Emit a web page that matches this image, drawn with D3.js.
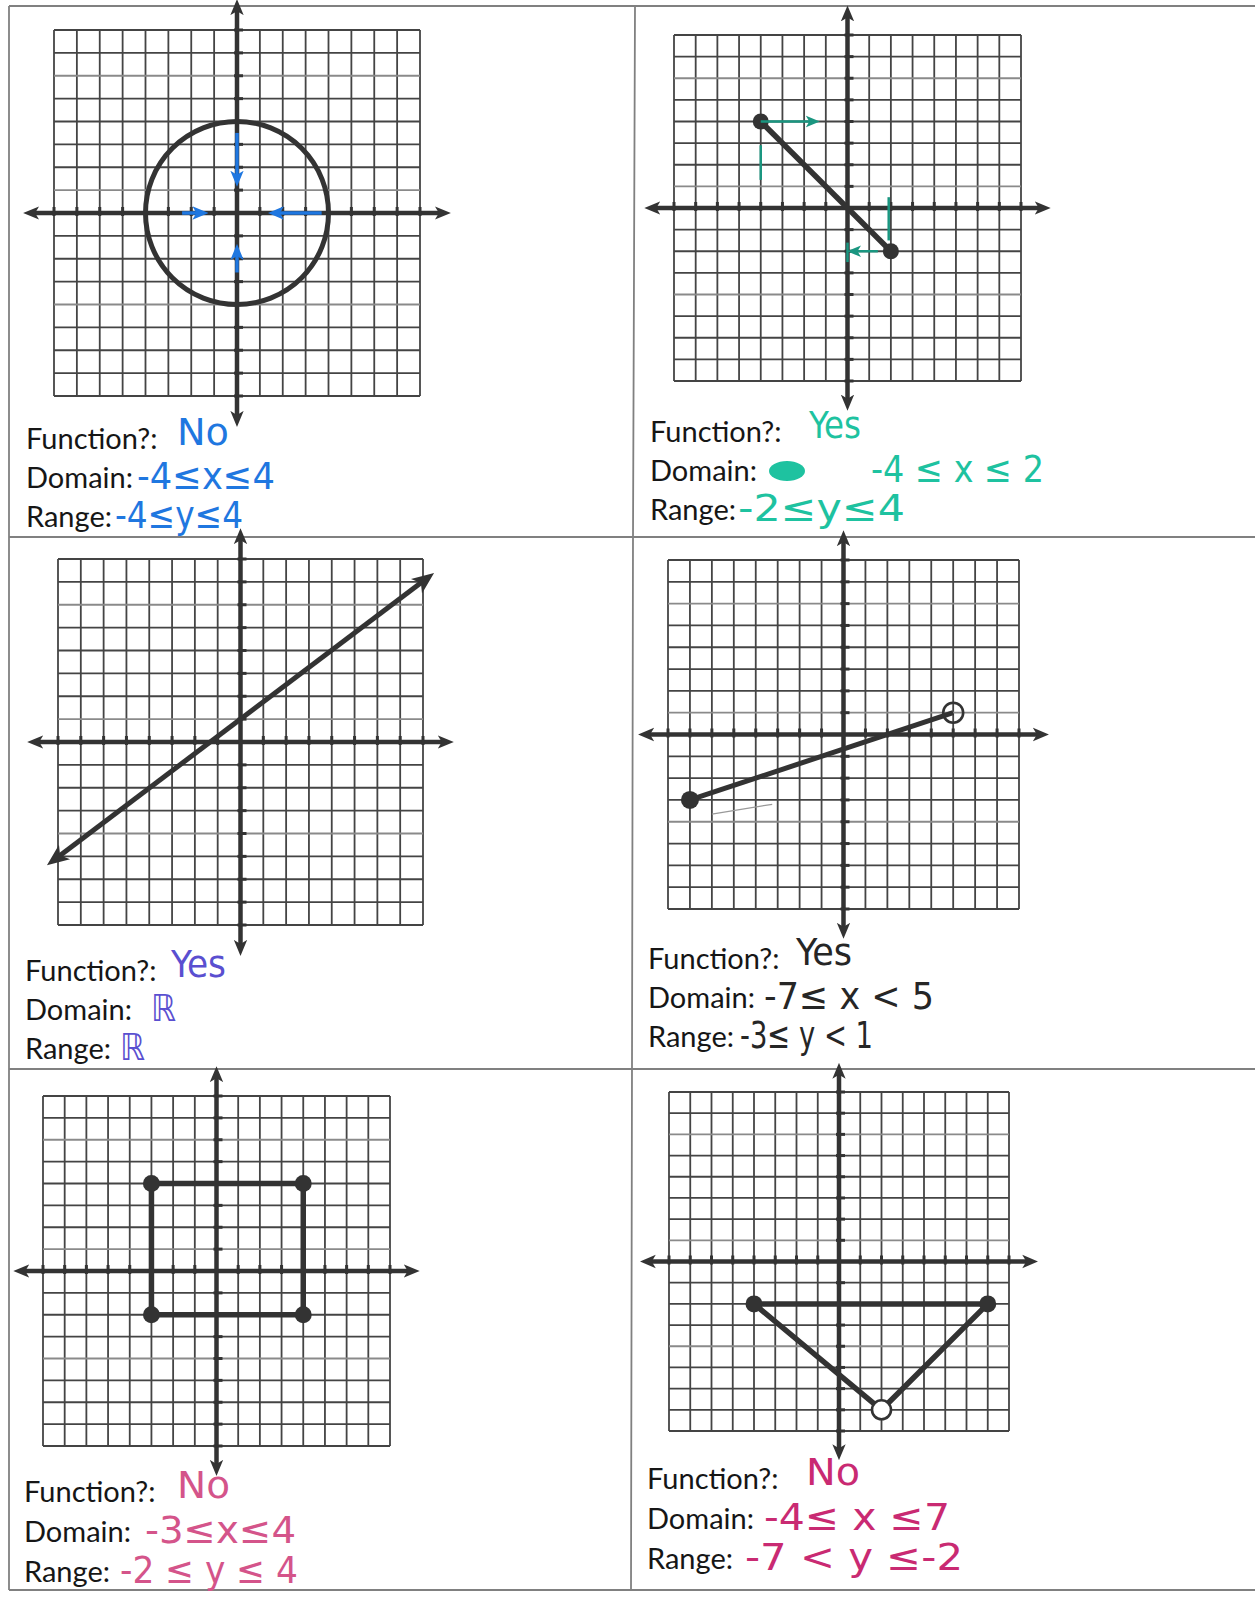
<!DOCTYPE html>
<html>
<head>
<meta charset="utf-8">
<script src="https://cdn.jsdelivr.net/npm/d3@7"></script>
<style>
  html, body { margin: 0; background: #fff; }
  svg { display: block; }
  .lbl { font-family: Lato, "Open Sans", sans-serif; font-size: 29px; fill: #161616; }
  .ans { font-family: "Liberation Sans Narrow", "DejaVu Sans Condensed", "Noto Sans", sans-serif; font-size: 37px; }
</style>
</head>
<body>
<svg id="chart" width="1255" height="1606"></svg>
<script>
// ---- data ----------------------------------------------------------
const UNITS = d3.range(-8, 9);
const AXIS_EXT = 9;
const labels = ['Function?:', 'Domain:', 'Range:'];

// 1: circle
const circleCenter = [0, 0];
const circleRadius = 4;
const circleArrows = [[[0, 3.5], [0, 1.5]], [[-2.4, 0], [-1.6, 0]], [[3.7, 0], [1.7, 0]], [[0, -2.6], [0, -1.7]]];
const answers1 = ['No', '-4≤x≤4', '-4≤y≤4'];

// 2: segment
const seg2 = [[-4, 4], [2, -2]];
const closed2 = [[-4, 4], [2, -2]];
const guideArrows2 = [[[-4, 4], [-1.6, 4]], [[1.4, -2], [0.3, -2]]];
const guideLines2 = [[[-4, 2.9], [-4, 1.3]], [[1.9, 0.5], [1.9, -1.5]], [[0, -1.6], [0, -2.5]]];
const answers2 = ['Yes', '-4 ≤ x ≤ 2', '-2≤y≤4'];

// 3: line with arrows both ends
const line3 = [[-8.1, -5.1], [8.1, 7.1]];
const answers3 = ['Yes', 'ℝ', 'ℝ'];

// 4: closed to open segment
const seg4 = [[-7, -3], [5, 1]];
const closed4 = [[-7, -3]];
const open4 = [[5, 1]];
const scribble4 = [[-6, -3.65], [-3.25, -3.2]];
const answers4 = ['Yes', '-7≤  x < 5', '-3≤ y < 1'];

// 5: rectangle
const rect5 = [[-3, 4], [4, 4], [4, -2], [-3, -2], [-3, 4]];
const closed5 = [[-3, 4], [4, 4], [4, -2], [-3, -2]];
const answers5 = ['No', '-3≤x≤4', '-2 ≤ y ≤ 4'];

// 6: triangle
const tri6 = [[-4, -2], [7, -2], [2, -7], [-4, -2]];
const closed6 = [[-4, -2], [7, -2]];
const open6 = [[2, -7]];
const answers6 = ['No', '-4≤ x ≤7', '-7 < y ≤-2'];

// ---- layout --------------------------------------------------------
const panels = [
  { box: [54, 30, 420, 396],   lx: 26, ly: 449,  gap: 39, ax: [177, 137, 115], aw: [52, 138, 128], color: '#1f77e0', answers: answers1 },
  { box: [674, 35, 1021, 381], lx: 650, ly: 442, gap: 39, ax: [809, 871, 738], aw: [52, 173, 167], color: '#1ec2a0', answers: answers2 },
  { box: [58, 559, 423, 925],  lx: 25, ly: 981,  gap: 39, ax: [171, 151, 120], aw: [55, 25, 25],   color: '#5a4fd0', answers: answers3 },
  { box: [668, 560, 1019, 909],lx: 648, ly: 969, gap: 39, ax: [796, 764, 740], aw: [56, 170, 133], color: '#262626', answers: answers4 },
  { box: [43, 1096, 390, 1446],lx: 24, ly: 1502, gap: 40, ax: [177, 145, 120], aw: [53, 151, 178], color: '#d4548a', answers: answers5 },
  { box: [669, 1092, 1009, 1431], lx: 647, ly: 1489, gap: 40, ax: [806, 764, 745], aw: [54, 186, 218], color: '#c92a72', answers: answers6 }
];
const ANS_SHIFT = [-4, 1, 1];

const INK = '#333';
const svg = d3.select('#chart');

const defs = svg.append('defs');
function marker(id, color, size) {
  defs.append('marker')
    .attr('id', id)
    .attr('viewBox', '0 -6 12 12')
    .attr('refX', 6).attr('refY', 0)
    .attr('markerUnits', 'userSpaceOnUse')
    .attr('markerWidth', size).attr('markerHeight', size)
    .attr('orient', 'auto-start-reverse')
    .append('path')
    .attr('d', 'M0,-5L12,0L0,5L3,0Z')
    .attr('fill', color);
}
marker('axisArrow', INK, 16);
marker('lineArrow', INK, 22);
marker('blueArrow', '#1f77e0', 16);
marker('tealArrow', '#1a9680', 14);

// table borders
const border = svg.append('g').attr('stroke', '#808080').attr('stroke-width', 1.8).attr('fill', 'none');
border.append('path').attr('d', 'M9,6 V1590');
border.append('path').attr('d', 'M9,6 H1255');
border.append('path').attr('d', 'M635,6 L633,537 L631,1590');
[537, 1069, 1590].forEach((yy) => border.append('path').attr('d', `M9,${yy} H1255`));

function drawPanel(p) {
  const g = svg.append('g');
  const x = d3.scaleLinear().domain([-8, 8]).range([p.box[0], p.box[2]]);
  const y = d3.scaleLinear().domain([-8, 8]).range([p.box[3], p.box[1]]);

  // grid
  g.selectAll('line.gv').data(UNITS).join('line')
    .attr('class', 'gv')
    .attr('x1', (d) => x(d)).attr('x2', (d) => x(d))
    .attr('y1', y(-8)).attr('y2', y(8))
    .attr('stroke', '#444').attr('stroke-width', 1.8);
  g.selectAll('line.gh').data(UNITS).join('line')
    .attr('class', 'gh')
    .attr('y1', (d) => y(d)).attr('y2', (d) => y(d))
    .attr('x1', x(-8)).attr('x2', x(8))
    .attr('stroke', (d) => (d === 6 || d === 1 || d === -4 ? '#8a8a8a' : '#444'))
    .attr('stroke-width', 1.8);

  // axes
  g.append('line')
    .attr('x1', x(-AXIS_EXT)).attr('x2', x(AXIS_EXT)).attr('y1', y(0)).attr('y2', y(0))
    .attr('stroke', INK).attr('stroke-width', 4.5)
    .attr('marker-start', 'url(#axisArrow)').attr('marker-end', 'url(#axisArrow)');
  g.append('line')
    .attr('y1', y(-AXIS_EXT)).attr('y2', y(AXIS_EXT)).attr('x1', x(0)).attr('x2', x(0))
    .attr('stroke', INK).attr('stroke-width', 4.5)
    .attr('marker-start', 'url(#axisArrow)').attr('marker-end', 'url(#axisArrow)');

  // axis ticks
  g.selectAll('line.tx').data(UNITS.filter((d) => d !== 0)).join('line')
    .attr('x1', (d) => x(d)).attr('x2', (d) => x(d))
    .attr('y1', y(0) - 6).attr('y2', y(0) + 3)
    .attr('stroke', INK).attr('stroke-width', 3);
  g.selectAll('line.ty').data(UNITS.filter((d) => d !== 0)).join('line')
    .attr('y1', (d) => y(d)).attr('y2', (d) => y(d))
    .attr('x1', x(0) - 3).attr('x2', x(0) + 6)
    .attr('stroke', INK).attr('stroke-width', 3);

  // labels and answers
  labels.forEach((t, i) => {
    svg.append('text').attr('class', 'lbl')
      .attr('x', p.lx).attr('y', p.ly + i * p.gap).text(t);
    svg.append('text').attr('class', 'ans')
      .attr('x', p.ax[i]).attr('y', p.ly + i * p.gap + ANS_SHIFT[i])
      .attr('fill', p.color)
      .attr('textLength', p.aw[i]).attr('lengthAdjust', 'spacingAndGlyphs')
      .text(p.answers[i]);
  });
  return { g, x, y };
}

const lineGen = (x, y) => d3.line().x((d) => x(d[0])).y((d) => y(d[1]));

function dots(g, x, y, pts, r) {
  g.selectAll(null).data(pts).join('circle')
    .attr('cx', (d) => x(d[0])).attr('cy', (d) => y(d[1])).attr('r', r).attr('fill', INK);
}

// panel 1
{
  const { g, x, y } = drawPanel(panels[0]);
  g.append('circle')
    .attr('cx', x(circleCenter[0])).attr('cy', y(circleCenter[1]))
    .attr('r', x(circleRadius) - x(0))
    .attr('fill', 'none').attr('stroke', INK).attr('stroke-width', 5);
  g.selectAll(null).data(circleArrows).join('path')
    .attr('d', (d) => lineGen(x, y)(d))
    .attr('stroke', '#1f77e0').attr('stroke-width', 3.5).attr('fill', 'none')
    .attr('marker-end', 'url(#blueArrow)');
}

// panel 2
{
  const { g, x, y } = drawPanel(panels[1]);
  g.append('path').attr('d', lineGen(x, y)(seg2))
    .attr('stroke', INK).attr('stroke-width', 5.5).attr('fill', 'none');
  dots(g, x, y, closed2, 8);
  g.selectAll(null).data(guideArrows2).join('path')
    .attr('d', (d) => lineGen(x, y)(d))
    .attr('stroke', '#1a9680').attr('stroke-width', 2.5).attr('fill', 'none')
    .attr('marker-end', 'url(#tealArrow)');
  g.selectAll(null).data(guideLines2).join('path')
    .attr('d', (d) => lineGen(x, y)(d))
    .attr('stroke', '#1a9680').attr('stroke-width', 2.5).attr('fill', 'none');
  // scribbled-out word after "Domain:"
  svg.append('ellipse').attr('cx', 787).attr('cy', 471).attr('rx', 18).attr('ry', 10).attr('fill', '#1ec2a0');
}

// panel 3
{
  const { g, x, y } = drawPanel(panels[2]);
  g.append('path').attr('d', lineGen(x, y)(line3))
    .attr('stroke', INK).attr('stroke-width', 5).attr('fill', 'none')
    .attr('marker-start', 'url(#lineArrow)').attr('marker-end', 'url(#lineArrow)');
}

// panel 4
{
  const { g, x, y } = drawPanel(panels[3]);
  g.append('path').attr('d', lineGen(x, y)(seg4))
    .attr('stroke', INK).attr('stroke-width', 5).attr('fill', 'none');
  dots(g, x, y, closed4, 9);
  g.selectAll(null).data(open4).join('circle')
    .attr('cx', (d) => x(d[0])).attr('cy', (d) => y(d[1])).attr('r', 10)
    .attr('fill', 'none').attr('stroke', INK).attr('stroke-width', 2.6);
  g.append('path').attr('d', lineGen(x, y)(scribble4))
    .attr('stroke', '#999').attr('stroke-width', 1.2).attr('fill', 'none');
}

// panel 5
{
  const { g, x, y } = drawPanel(panels[4]);
  g.append('path').attr('d', lineGen(x, y)(rect5))
    .attr('stroke', INK).attr('stroke-width', 5.5).attr('fill', 'none');
  dots(g, x, y, closed5, 8.5);
}

// panel 6
{
  const { g, x, y } = drawPanel(panels[5]);
  g.append('path').attr('d', lineGen(x, y)(tri6))
    .attr('stroke', INK).attr('stroke-width', 5.5).attr('fill', 'none').attr('stroke-linejoin', 'round');
  dots(g, x, y, closed6, 8.5);
  g.selectAll(null).data(open6).join('circle')
    .attr('cx', (d) => x(d[0])).attr('cy', (d) => y(d[1])).attr('r', 9.5)
    .attr('fill', '#fff').attr('stroke', INK).attr('stroke-width', 2.6);
}
</script>
</body>
</html>
